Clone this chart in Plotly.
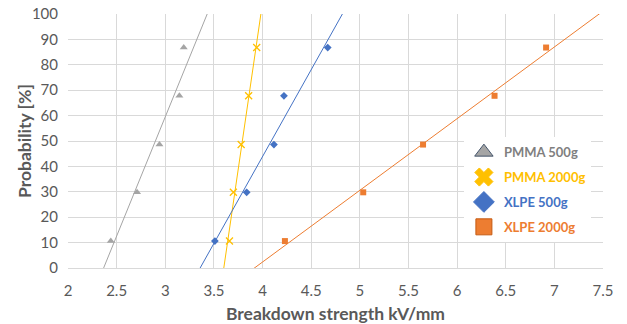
import numpy as np
import plotly.graph_objects as go

# Data
probability = [10.6, 29.8, 48.6, 67.8, 86.8]
pmma_500 = [2.44, 2.71, 2.94, 3.145, 3.19]
pmma_2000 = [3.66, 3.70, 3.78, 3.857, 3.94]
xlpe_500 = [3.51, 3.837, 4.117, 4.22, 4.67]
xlpe_2000 = [4.23, 5.035, 5.65, 6.385, 6.915]

series_names = ["PMMA 500g", "PMMA 2000g", "XLPE 500g", "XLPE 2000g"]
x_ticks = [2, 2.5, 3, 3.5, 4, 4.5, 5, 5.5, 6, 6.5, 7, 7.5]
y_ticks = [0, 10, 20, 30, 40, 50, 60, 70, 80, 90, 100]

series = [pmma_500, pmma_2000, xlpe_500, xlpe_2000]
colors = ["#A5A5A5", "#FFC000", "#4472C4", "#ED7D31"]
symbols = ["triangle-up", "x-thin-open", "diamond", "square"]
legend_symbols = ["triangle-up", "x", "diamond", "square"]
legend_lines = ["#44546A", "#FFC000", "#4472C4", "#C55A11"]
legend_text = ["#7F7F7F", "#FFC000", "#4472C4", "#ED7D31"]
sizes = [7, 7, 6, 6]

fig = go.Figure()

xmin, xmax = x_ticks[0], x_ticks[-1]
for xs, c in zip(series, colors):
    m, b = np.polyfit(xs, probability, 1)
    fig.add_trace(go.Scatter(
        x=[xmin, xmax], y=[m * xmin + b, m * xmax + b],
        mode="lines", line=dict(color=c, width=1),
        showlegend=False, hoverinfo="skip"))

for xs, c, s, sz, nm in zip(series, colors, symbols, sizes, series_names):
    mk = dict(color=c, size=sz, symbol=s)
    if s == "x-thin-open":
        mk["line"] = dict(color=c, width=1.3)
    fig.add_trace(go.Scatter(x=xs, y=probability, mode="markers",
                             marker=mk, showlegend=False, name=nm))

for i, (c, s, lc, tc, nm) in enumerate(zip(colors, legend_symbols, legend_lines,
                                            legend_text, series_names)):
    fig.add_trace(go.Scatter(
        x=[None], y=[None], mode="markers",
        marker=dict(color=c, size=16, symbol=s, line=dict(color=lc, width=1)),
        name=f"<b><span style='color:{tc}'>{nm}</span></b>",
        legendgroup=f"g{i}"))

fig.update_layout(
    width=619, height=316,
    margin=dict(l=60, r=24, t=6, b=56, autoexpand=False),
    paper_bgcolor="white", plot_bgcolor="white",
    font=dict(family="Lato, sans-serif", size=15, color="#595959"),
    showlegend=True,
    legend=dict(x=0.74, y=0.515, xanchor="left", yanchor="top",
                bgcolor="white", font=dict(size=13),
                traceorder="grouped", tracegroupgap=5,
                itemsizing="trace"),
    xaxis=dict(range=[xmin, xmax], tickvals=x_ticks,
               ticktext=[f"{v:g}" for v in x_ticks],
               showgrid=True, gridcolor="#D9D9D9", gridwidth=1,
               zeroline=False, showline=True, linecolor="#D9D9D9",
               mirror=False, ticks="outside", ticklen=9, tickcolor="rgba(0,0,0,0)",
               automargin=False, ticklabeloverflow="allow",
               tickfont=dict(size=15, color="#595959"),
               title=dict(text="<b>Breakdown strength kV/mm</b>",
                          font=dict(size=17.5, color="#595959"), standoff=9)),
    yaxis=dict(range=[0, 100], tickvals=y_ticks,
               showgrid=True, gridcolor="#D9D9D9", gridwidth=1,
               zeroline=False, showline=False,
               ticks="outside", ticklen=6, tickcolor="rgba(0,0,0,0)",
               automargin=False, ticklabeloverflow="allow",
               tickfont=dict(size=15, color="#595959")),
    annotations=[dict(text="<b>Probability [%]</b>", textangle=-90,
                      xref="paper", yref="paper", x=0, y=0.5,
                      xanchor="center", yanchor="middle", xshift=-44,
                      showarrow=False,
                      font=dict(size=17.5, color="#595959"))],
)

fig.write_html("out.html")
